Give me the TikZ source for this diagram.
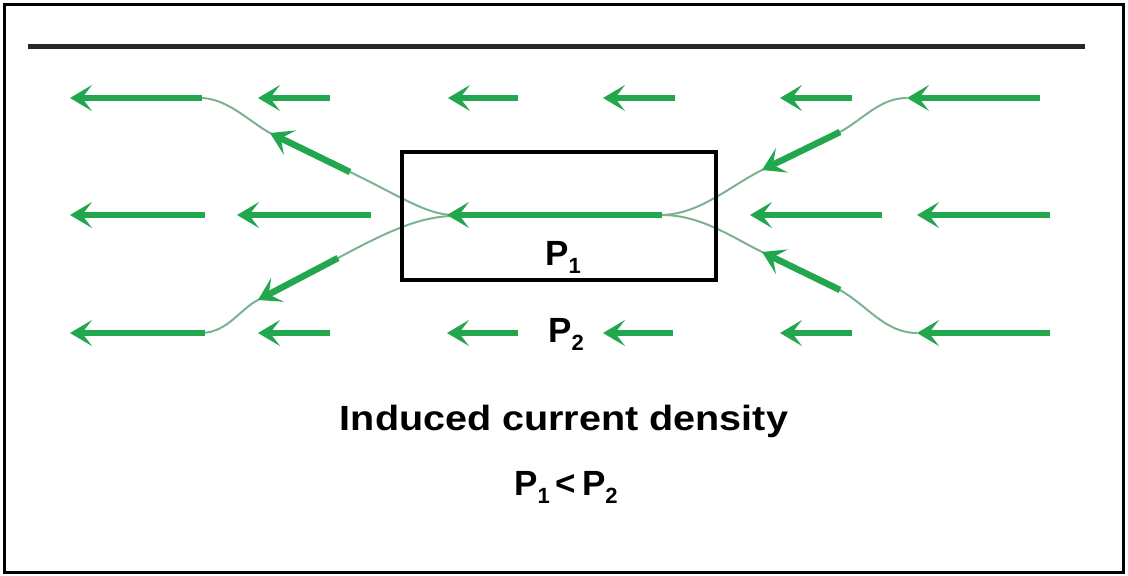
\documentclass[tikz,border=0pt]{standalone}
\usepackage{fontspec}
\setmainfont{Liberation Sans}
\usetikzlibrary{arrows.meta}
\definecolor{fgreen}{RGB}{34,166,78}
\definecolor{tgreen}{RGB}{125,178,145}
\tikzset{
  farrow/.style={draw=fgreen, line width=5.5pt, -{Stealth[length=22pt,width=26pt,inset=10pt]}},
  darrow/.style={draw=fgreen, line width=6.5pt, -{Stealth[length=22pt,width=27pt,inset=10pt]}},
  thinline/.style={draw=tgreen, line width=2pt},
  lbl/.style={font=\bfseries\fontsize{35}{40}\selectfont, inner sep=0pt, anchor=base},
}
\newcommand{\subsc}[1]{\raisebox{-8pt}{\fontsize{22}{24}\selectfont #1}}
\begin{document}
\begin{tikzpicture}[x=1pt,y=-1pt]
\useasboundingbox (0,0) rectangle (1128,576);
% frame
\draw[line width=3pt] (4,4) rectangle (1123,572);
\draw[line width=5pt,draw=black!85] (28,46) -- (1085,46);
% thin curves
\draw[thinline] (202,98) .. controls (228,99) and (250,122) .. (270,133) -- (350,172)
   .. controls (398,195) and (425,214) .. (452,215) -- (662,215)
   .. controls (700,215) and (730,236) .. (762,252) -- (840,290)
   .. controls (868,306) and (885,333) .. (917,333);
\draw[thinline] (202,333) .. controls (228,332) and (240,309) .. (258,300) -- (338,258)
   .. controls (390,230) and (420,217) .. (452,216) -- (662,215)
   .. controls (700,214) and (730,186) .. (762,170) -- (840,132)
   .. controls (865,118) and (880,98) .. (907,98);
% box
\node[draw, line width=4pt, minimum width=314pt, minimum height=128pt, inner sep=0pt] (box) at (559,216) {};
% row 1
\draw[farrow] (202,98) -- (70,98);
\draw[farrow] (330,98) -- (258,98);
\draw[farrow] (518,98) -- (448,98);
\draw[farrow] (675,98) -- (603,98);
\draw[farrow] (852,98) -- (780,98);
\draw[farrow] (1040,98) -- (907,98);
% row 2
\draw[farrow] (205,215) -- (70,215);
\draw[farrow] (371,215) -- (237,215);
\draw[farrow] (662,215) -- (447,215);
\draw[farrow] (882,215) -- (750,215);
\draw[farrow] (1050,215) -- (917,215);
% row 3
\draw[farrow] (205,333) -- (70,333);
\draw[farrow] (330,333) -- (258,333);
\draw[farrow] (518,333) -- (447,333);
\draw[farrow] (673,333) -- (603,333);
\draw[farrow] (852,333) -- (780,333);
\draw[farrow] (1050,333) -- (917,333);
% diagonal arrows
\draw[darrow] (350,172) -- (270,133);
\draw[darrow] (338,258) -- (258,300);
\draw[darrow] (840,132) -- (762,170);
\draw[darrow] (840,290) -- (762,252);
% labels
\node[lbl] (p1) at (563,265) {P\subsc{1}};
\node[lbl] (p2) at (566,342) {P\subsc{2}};
\node[lbl] (title) at (564,430) {\scalebox{1.13}[1]{Induced current density}};
\node[lbl] (rel) at (566,495) {P\subsc{1}\,<\,P\subsc{2}};
\end{tikzpicture}
\end{document}
